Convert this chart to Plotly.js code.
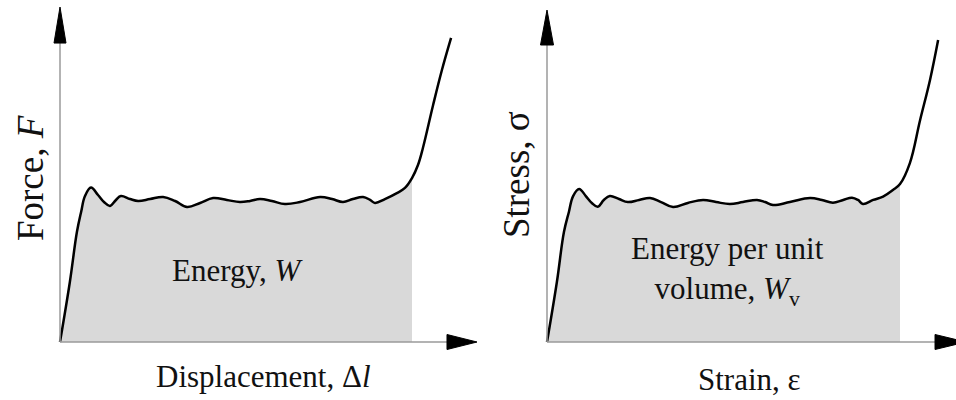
<!DOCTYPE html>
<html>
<head>
<meta charset="utf-8">
<script src="https://cdn.plot.ly/plotly-3.0.1.min.js"></script>
<style>html,body{margin:0;padding:0;background:#fff;}#chart{width:956px;height:400px;}</style>
</head>
<body>
<div id="chart"></div>
<script>
// Left panel: force vs displacement (normalised units)
const displacement = [0, 0.028, 0.048, 0.060, 0.071, 0.088, 0.108, 0.125, 0.142, 0.159, 0.173, 0.199, 0.222, 0.256, 0.293, 0.327, 0.361, 0.398, 0.435, 0.474, 0.511, 0.540, 0.568, 0.602, 0.639, 0.682, 0.739, 0.773, 0.804, 0.832, 0.861, 0.881, 0.895, 0.923, 0.957, 0.980, 1.000, 1.017, 1.031, 1.060, 1.085, 1.111];
const force = [0, 0.400, 0.733, 0.867, 0.973, 1.030, 0.980, 0.933, 0.907, 0.947, 0.973, 0.953, 0.940, 0.953, 0.967, 0.940, 0.900, 0.927, 0.960, 0.947, 0.933, 0.940, 0.953, 0.940, 0.920, 0.933, 0.967, 0.953, 0.933, 0.953, 0.967, 0.947, 0.927, 0.953, 0.993, 1.027, 1.093, 1.180, 1.293, 1.580, 1.813, 2.027];
// Right panel: stress vs strain (normalised units)
const strain = [0, 0.028, 0.048, 0.062, 0.074, 0.091, 0.110, 0.127, 0.144, 0.161, 0.178, 0.204, 0.229, 0.261, 0.292, 0.323, 0.357, 0.399, 0.442, 0.479, 0.518, 0.555, 0.595, 0.618, 0.640, 0.688, 0.745, 0.779, 0.810, 0.839, 0.864, 0.881, 0.895, 0.924, 0.952, 0.980, 1.000, 1.028, 1.057, 1.085, 1.108];
const stress = [0, 0.400, 0.733, 0.867, 0.973, 1.020, 0.973, 0.927, 0.902, 0.947, 0.973, 0.953, 0.933, 0.947, 0.960, 0.933, 0.900, 0.927, 0.947, 0.933, 0.920, 0.933, 0.947, 0.933, 0.913, 0.933, 0.960, 0.947, 0.929, 0.947, 0.962, 0.947, 0.920, 0.947, 0.969, 1.013, 1.053, 1.193, 1.480, 1.747, 2.013];
// End of the shaded (energy) region
const shadeEnd = 1.0;

const labels = {
  leftX: 'Displacement, \u0394<i>l</i>',
  leftY: 'Force, <i>F</i>',
  leftArea: 'Energy, <i>W</i>',
  rightX: 'Strain, \u03b5',
  rightY: 'Stress, \u03c3',
  rightArea: 'Energy per unit<br>volume, <i>W</i><sub>v</sub>'
};

function clipTo(xs, ys, xmax) {
  const ox = [], oy = [];
  for (let i = 0; i < xs.length; i++) { if (xs[i] <= xmax + 1e-9) { ox.push(xs[i]); oy.push(ys[i]); } }
  return [ox, oy];
}

const fillColor = 'rgb(217,217,217)';
const [lfx, lfy] = clipTo(displacement, force, shadeEnd);
const [rfx, rfy] = clipTo(strain, stress, shadeEnd);

const smooth = 1.1;
const curveLine = {color: '#000', width: 2.5, shape: 'spline', smoothing: smooth};
const traces = [
  {x: lfx, y: lfy, mode: 'lines', fill: 'tozeroy', fillcolor: fillColor, line: {width: 0, shape: 'spline', smoothing: smooth}, xaxis: 'x', yaxis: 'y', hoverinfo: 'skip'},
  {x: rfx, y: rfy, mode: 'lines', fill: 'tozeroy', fillcolor: fillColor, line: {width: 0, shape: 'spline', smoothing: smooth}, xaxis: 'x2', yaxis: 'y2', hoverinfo: 'skip'},
  {x: displacement, y: force, mode: 'lines', line: curveLine, xaxis: 'x', yaxis: 'y'},
  {x: strain, y: stress, mode: 'lines', line: curveLine, xaxis: 'x2', yaxis: 'y2'}
];

const axisColor = '#9a9a9a';
function arrows(xr, yr, yTip, yBase, yHalf, xTip, xBase, xHalf) {
  return [
    {type: 'line', xref: xr, yref: yr, x0: 0, y0: 0, x1: 0, y1: yBase, line: {color: axisColor, width: 1.5}, layer: 'above'},
    {type: 'line', xref: xr, yref: yr, x0: 0, y0: 0, x1: xBase, y1: 0, line: {color: axisColor, width: 1.5}, layer: 'above'},
    {type: 'path', xref: xr, yref: yr, path: `M ${-yHalf} ${yBase} L 0 ${yTip} L ${yHalf} ${yBase} Z`, fillcolor: '#000', line: {color: '#000', width: 1}, layer: 'above'},
    {type: 'path', xref: xr, yref: yr, path: `M ${xBase} ${-xHalf} L ${xTip} 0 L ${xBase} ${xHalf} Z`, fillcolor: '#000', line: {color: '#000', width: 1}, layer: 'above'}
  ];
}

const family = '"Liberation Serif", "Times New Roman", serif';
const font = {family: family, size: 31, color: '#111'};
const vfont = {family: family, size: 37, color: '#111'};
const annotations = [
  {xref: 'x', yref: 'y', x: 0.504, y: 0.48, text: labels.leftArea, showarrow: false, font: font},
  {xref: 'x', yref: 'y', x: 0.578, y: -0.233, text: labels.leftX, showarrow: false, font: font},
  {xref: 'x', yref: 'y', x: -0.0852, y: 1.093, text: labels.leftY, showarrow: false, font: vfont, textangle: -90},
  {xref: 'x2', yref: 'y2', x: 0.51, y: 0.473, text: labels.rightArea, showarrow: false, font: font},
  {xref: 'x2', yref: 'y2', x: 0.575, y: -0.253, text: labels.rightX, showarrow: false, font: font},
  {xref: 'x2', yref: 'y2', x: -0.0878, y: 1.113, text: labels.rightY, showarrow: false, font: vfont, textangle: -90}
];

const hidden = {showgrid: false, zeroline: false, showline: false, showticklabels: false, ticks: '', fixedrange: true};
const layout = {
  width: 956, height: 400,
  margin: {l: 0, r: 0, t: 0, b: 0},
  paper_bgcolor: '#fff', plot_bgcolor: '#fff',
  showlegend: false,
  xaxis: Object.assign({domain: [0, 0.5], range: [-60/352, 418/352]}, hidden),
  yaxis: Object.assign({domain: [0, 1], range: [-58/150, 342/150]}, hidden),
  xaxis2: Object.assign({domain: [0.5, 1], range: [-69/353, 409/353]}, hidden),
  yaxis2: Object.assign({domain: [0, 1], range: [-58/150, 342/150], anchor: 'x2'}, hidden),
  shapes: arrows('x', 'y', 2.233, 1.993, 0.01705, 1.1847, 1.0994, 0.05)
    .concat(arrows('x2', 'y2', 2.213, 1.98, 0.0184, 1.187, 1.0992, 0.05)),
  annotations: annotations
};

Plotly.newPlot('chart', traces, layout, {displayModeBar: false, staticPlot: true});
</script>
</body>
</html>
